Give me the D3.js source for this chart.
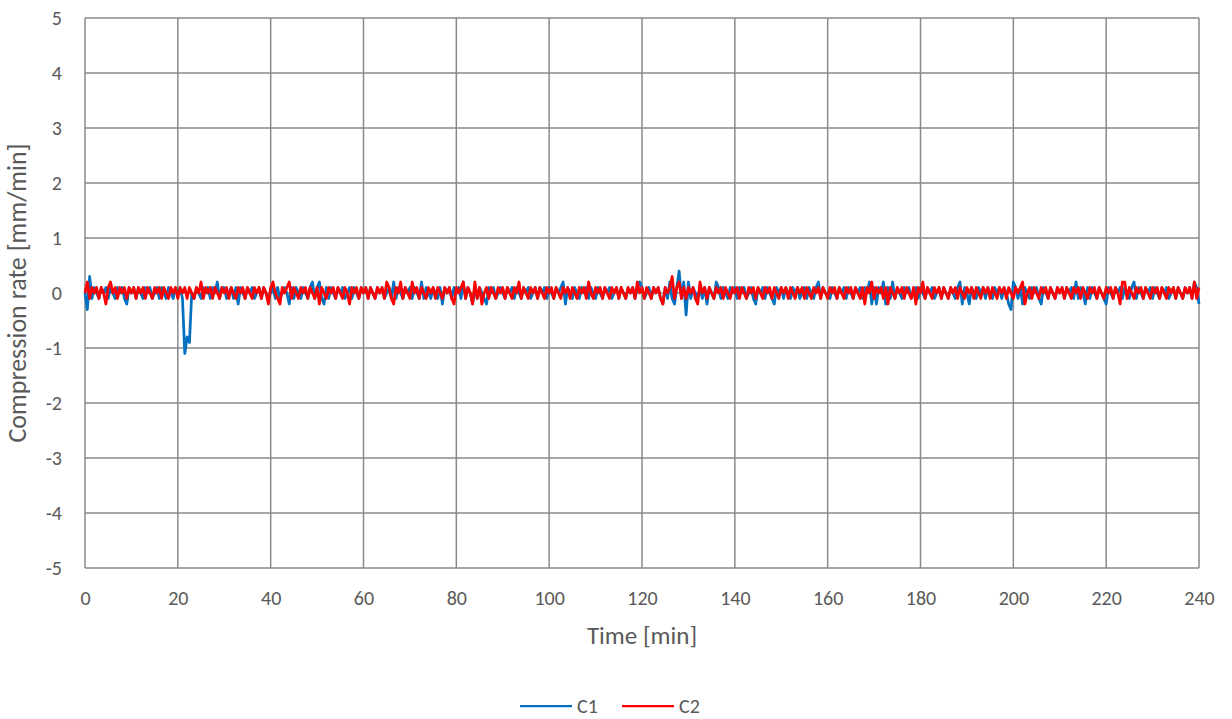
<!DOCTYPE html>
<html>
<head>
<meta charset="utf-8">
<script src="https://cdn.jsdelivr.net/npm/d3@7"></script>
<style>
  body { margin: 0; background: #fff; }
  text { font-family: Carlito, Calibri, Lato, sans-serif; fill: #595959; }
</style>
</head>
<body>
<svg width="1232" height="719"></svg>
<script>
// compression rate, sampled every 0.5 min from 0 to 240 min
var sampleStep = 0.5;

var c1 = [
  0, -0.3, 0.3, -0.1, 0.1, 0, -0.1, 0.1, 0, 0.1, -0.1, 0.1, 0, -0.1, 0.1, 0, 0.1, -0.1, -0.2, 0.1,
  0, 0.1, -0.1, 0.1, 0, -0.1, 0.1, 0, 0.1, -0.1, 0, 0.1, -0.1, 0.1, 0, -0.1, 0.1, 0, -0.1, 0.1,
  0, 0.1, -0.1, -1.1, -0.8, -0.9, 0, -0.1, 0.1, 0, -0.1, 0.1, 0, 0.1, -0.1, 0.1, 0, 0.2, -0.1, 0.1,
  0.1, -0.1, 0, 0.1, -0.1, 0.1, -0.2, 0.1, 0, -0.1, 0.1, 0, 0.1, -0.1, 0, 0.1, -0.1, 0.1, 0, -0.1,
  0, 0.1, -0.1, 0.1, -0.1, 0, 0.1, 0, -0.2, 0.1, -0.1, 0.1, 0, -0.1, 0.1, 0, -0.1, 0.1, 0.2, -0.1,
  0.1, 0.2, -0.1, -0.2, 0.1, -0.1, 0.1, 0, -0.1, 0.1, 0, 0.1, -0.1, 0, 0.1, -0.1, 0.1, 0, -0.1, 0.1,
  0, 0.1, -0.1, 0.1, 0, -0.1, 0.1, 0, 0.1, -0.1, 0, 0.1, -0.1, 0.2, -0.1, 0.1, 0, -0.1, 0.1, 0,
  0.1, -0.1, 0.1, 0, -0.1, 0.2, -0.1, 0.1, 0, -0.1, 0.1, 0, -0.1, 0.1, -0.2, 0.1, 0, 0.1, -0.1, 0.1,
  0, 0.1, -0.1, 0.2, -0.1, 0.1, 0, -0.2, 0.1, -0.1, 0.1, 0, -0.1, -0.2, 0.1, 0, 0.1, -0.1, 0, 0.1,
  0, -0.1, 0.1, 0, 0.1, -0.1, 0.1, 0, -0.1, 0.1, 0, 0.1, -0.1, 0, 0.1, -0.1, 0.1, 0, 0.1, -0.1,
  0.1, 0, -0.1, 0.1, 0, 0.1, 0.2, -0.2, 0.1, 0, -0.1, 0.1, 0, -0.1, 0.1, 0, 0.1, -0.1, 0.1, 0,
  -0.1, 0.1, 0, -0.1, 0.1, 0, 0.1, -0.1, 0, 0.1, -0.1, 0.1, 0, -0.1, 0.1, 0, 0.1, -0.1, 0.1, 0.2,
  0.1, -0.1, 0, 0.1, -0.1, 0.1, 0, 0.1, -0.1, -0.2, 0.1, -0.1, 0.2, -0.1, -0.2, 0.1, 0.4, -0.1, 0.2, -0.4,
  0.2, -0.1, 0.1, 0, -0.1, 0.1, -0.1, 0.1, -0.2, 0.1, 0, -0.1, 0.2, 0.1, -0.1, 0.1, 0, -0.1, 0.1, 0,
  0.1, -0.1, 0.1, 0, 0.1, -0.1, 0, 0.1, -0.1, -0.2, 0.1, 0, 0.1, -0.1, 0.1, 0, -0.1, -0.2, 0.1, 0,
  0.1, -0.1, 0.1, 0, -0.1, 0.1, 0, 0.1, -0.1, 0, 0.1, -0.1, 0.1, 0, -0.1, 0.1, 0.2, -0.1, 0.1, 0,
  0, -0.1, 0.1, 0, -0.1, 0.1, 0, 0.1, -0.1, 0.1, 0, -0.1, 0.1, 0, 0.1, -0.1, 0.1, 0, 0.2, -0.2,
  0.1, -0.2, 0.1, 0, 0.2, -0.2, 0.1, -0.1, 0.2, -0.1, 0.1, 0, -0.1, 0.1, 0, 0.1, -0.1, 0, 0.1, -0.1,
  0.1, 0, -0.1, 0.1, 0, 0.1, -0.1, 0, 0.1, -0.1, 0.1, 0, -0.1, 0.1, 0, -0.1, 0.1, 0.2, -0.2, 0.1,
  0, -0.2, 0.1, 0, -0.1, 0.1, 0, 0.1, -0.1, 0.1, 0, -0.1, 0.1, 0, 0.1, -0.1, 0.1, 0, -0.2, -0.3,
  0.2, 0.1, -0.1, 0.1, -0.2, 0.1, 0, -0.1, 0.1, 0, 0.1, -0.1, -0.2, 0.1, 0, -0.1, 0.1, 0, -0.1, 0.1,
  0, 0.1, -0.1, 0.1, 0, 0.1, -0.1, 0.2, -0.1, 0.1, 0, -0.2, 0.1, -0.1, 0.1, 0, -0.1, 0.1, 0, -0.1,
  -0.2, 0.1, 0, -0.1, 0.1, 0, 0.1, -0.1, 0.1, 0, -0.1, 0.1, 0.2, -0.1, 0.1, 0, -0.1, 0.1, 0, 0.1,
  -0.1, 0.1, 0, -0.1, 0.1, 0, 0.1, -0.1, 0, 0.1, -0.1, 0.1, 0, -0.1, 0.1, 0, 0.1, -0.1, 0.2, 0.1,
  -0.2
];

var c2 = [
  0, 0.2, -0.1, 0.1, 0, 0.1, -0.1, 0.1, 0, -0.2, 0.1, 0.2, 0, 0.1, -0.1, 0.1, 0, 0.1, -0.1, 0.1,
  0, 0.1, -0.1, 0.1, 0, 0.1, -0.1, 0.1, 0, -0.1, 0.1, 0, 0.1, -0.1, 0.1, 0, -0.1, 0.1, 0, 0.1,
  -0.1, 0.1, 0, 0.1, -0.1, 0.1, 0, -0.1, 0.1, 0, 0.2, -0.1, 0.1, 0, 0.1, -0.1, 0.1, 0, -0.1, 0.1,
  0, 0.1, -0.1, 0.1, 0, -0.1, 0.1, 0, 0.1, -0.1, 0.1, 0, -0.1, 0.1, 0, 0.1, -0.1, 0.1, 0, -0.2,
  0.1, 0.2, 0, -0.1, -0.2, 0.1, 0, 0.1, 0.2, -0.1, 0.1, 0, -0.1, 0.1, 0, 0.1, -0.1, 0.1, 0, -0.1,
  0.1, -0.2, 0.1, 0, -0.1, 0.1, 0, 0.1, -0.1, 0.1, 0, -0.1, 0.1, 0, -0.2, 0.1, 0, 0.1, -0.1, 0.1,
  0, 0.1, -0.1, 0.1, 0, -0.1, 0.1, 0, 0.1, -0.1, 0.2, 0.1, -0.1, -0.2, 0.1, 0, 0.2, -0.1, 0.1, 0,
  -0.1, 0.2, 0, 0.1, -0.1, 0.1, 0, -0.1, 0.1, 0, 0.1, -0.1, 0.1, 0, -0.1, 0.1, 0, 0.1, -0.1, -0.2,
  0.1, 0, 0.1, 0.2, -0.1, 0.1, 0, -0.2, 0.2, -0.1, 0.1, -0.2, 0, 0.1, -0.1, 0.1, 0, -0.1, 0.1, 0,
  0.1, -0.1, 0.1, 0, -0.1, 0.1, 0, 0.2, -0.1, 0.1, 0, -0.1, 0.1, 0, 0.1, -0.1, 0.1, 0, -0.1, 0.1,
  0, 0.1, -0.1, 0.1, 0, -0.1, 0.1, 0, 0.1, -0.1, 0.1, 0, -0.1, 0.1, 0, 0.1, -0.1, 0.2, 0, -0.1,
  0.1, 0, 0.1, -0.1, 0.1, 0, -0.1, 0.1, 0, 0.1, -0.1, 0.1, 0, -0.1, 0.1, 0, 0.1, -0.1, 0.2, 0,
  0.1, -0.1, 0.1, 0, -0.1, 0.1, 0, 0.1, -0.1, -0.2, 0.1, 0, 0.1, 0.3, -0.1, 0.1, 0.2, -0.1, 0.1, -0.1,
  0.1, 0, 0.1, -0.1, -0.2, 0.2, 0, 0.1, -0.1, 0.1, 0, -0.1, 0.1, 0, 0.1, -0.1, 0.1, 0, -0.1, 0.1,
  0, 0.1, -0.1, 0.1, 0, -0.1, 0.1, 0, 0.1, -0.1, 0.1, 0, -0.1, 0.1, 0, 0.1, -0.1, 0.1, 0, -0.1,
  0.1, 0, 0.1, -0.1, 0.1, 0, -0.1, 0.1, 0, 0.1, -0.1, 0.1, 0, -0.1, 0.1, 0, 0.1, -0.1, 0.1, 0,
  -0.1, 0.1, 0, 0.1, -0.1, 0.1, 0, -0.1, 0.1, 0, 0.1, -0.1, 0.1, 0, -0.1, 0.1, -0.2, 0.1, 0, 0.2,
  -0.1, 0.1, 0, 0.1, -0.1, 0.1, -0.2, 0.1, 0, -0.1, 0.1, 0, 0.1, -0.1, 0.1, 0, -0.1, 0.1, -0.2, 0.1,
  0, 0.2, -0.1, 0.1, 0, -0.1, 0.1, 0, 0.1, -0.1, 0.1, 0, -0.1, 0.1, 0, 0.1, -0.1, 0.1, 0, -0.1,
  0.1, 0, 0.1, -0.1, 0.1, 0, -0.1, 0.1, 0, 0.1, -0.1, 0.1, 0, -0.1, 0.1, 0, 0.1, -0.1, 0.1, 0,
  -0.1, 0.1, 0, 0.1, 0.2, -0.2, 0, 0.1, -0.1, 0.1, 0, -0.1, 0.1, 0, 0.1, -0.1, 0.1, 0, -0.1, 0.1,
  0, 0.1, -0.1, 0.1, 0, -0.1, 0.1, 0, 0.1, -0.1, 0.1, 0, -0.1, 0.1, 0, 0.1, -0.1, 0.1, 0, -0.1,
  0.1, 0, 0.1, -0.1, 0.1, 0, -0.2, 0.2, 0.2, -0.1, 0.1, 0, -0.1, 0.1, 0, 0.1, -0.1, 0.1, 0, -0.1,
  0.1, 0, 0.1, -0.1, 0.1, 0, -0.1, 0.1, 0, 0.1, -0.1, 0.1, 0, -0.1, 0.1, 0, 0.1, -0.1, 0.2, -0.1,
  0.1
];

var seriesNames = ["C1", "C2"];
var seriesColors = ["#0070c0", "#ff0000"];
var xTicks = d3.range(0, 241, 20);
var yTicks = d3.range(-5, 6, 1);

var svg = d3.select("svg"),
    margin = {top: 18, right: 33, bottom: 151, left: 85},
    width = +svg.attr("width") - margin.left - margin.right,
    height = +svg.attr("height") - margin.top - margin.bottom;

var x = d3.scaleLinear().domain([0, 240]).range([0, width]);
var y = d3.scaleLinear().domain([-5, 5]).range([height, 0]);

var g = svg.append("g")
    .attr("transform", "translate(" + margin.left + "," + margin.top + ")");

// grid
g.append("g")
    .selectAll("line")
    .data(yTicks)
    .enter().append("line")
    .attr("x1", 0).attr("x2", width)
    .attr("y1", function(d) { return y(d); })
    .attr("y2", function(d) { return y(d); })
    .attr("stroke", "#898989")
    .attr("stroke-width", 1.5);

g.append("g")
    .selectAll("line")
    .data(xTicks)
    .enter().append("line")
    .attr("y1", 0).attr("y2", height)
    .attr("x1", function(d) { return x(d); })
    .attr("x2", function(d) { return x(d); })
    .attr("stroke", "#898989")
    .attr("stroke-width", 1.5);

// axes (labels only), plain hyphen for negatives like the original
var plain = function(d) { return String(d); };
var xAxis = g.append("g")
    .attr("transform", "translate(0," + height + ")")
    .call(d3.axisBottom(x).tickValues(xTicks).tickSize(0).tickPadding(23).tickFormat(plain));
var yAxis = g.append("g")
    .call(d3.axisLeft(y).tickValues(yTicks).tickSize(0).tickPadding(23).tickFormat(plain));
[xAxis, yAxis].forEach(function(a) {
    a.select(".domain").remove();
    a.selectAll("text")
        .style("font-size", "20px")
        .style("font-family", "Carlito, Calibri, Lato, sans-serif")
        .attr("fill", "#595959");
});

// lines
var line = d3.line()
    .x(function(d, i) { return x(i * sampleStep); })
    .y(function(d) { return y(d); });

[c1, c2].forEach(function(s, k) {
    g.append("path")
        .datum(s)
        .attr("fill", "none")
        .attr("stroke", seriesColors[k])
        .attr("stroke-width", 2.75)
        .attr("stroke-linejoin", "round")
        .attr("d", line);
});

// axis titles
svg.append("text")
    .attr("x", margin.left + width / 2)
    .attr("y", 644)
    .attr("text-anchor", "middle")
    .style("font-size", "25px")
    .text("Time [min]");

svg.append("text")
    .attr("transform", "translate(26," + (margin.top + height / 2) + ") rotate(-90)")
    .attr("text-anchor", "middle")
    .style("font-size", "26px")
    .text("Compression rate [mm/min]");

// legend
var legend = svg.selectAll(".legend")
    .data(seriesNames)
    .enter().append("g")
    .attr("class", "legend")
    .attr("transform", function(d, i) { return "translate(" + (520 + i * 102) + ",706)"; });
legend.append("line")
    .attr("x1", 0).attr("x2", 52)
    .attr("stroke", function(d, i) { return seriesColors[i]; })
    .attr("stroke-width", 2.25);
legend.append("text")
    .attr("x", 57)
    .attr("y", 7)
    .style("font-size", "20px")
    .text(function(d) { return d; });
</script>
</body>
</html>
